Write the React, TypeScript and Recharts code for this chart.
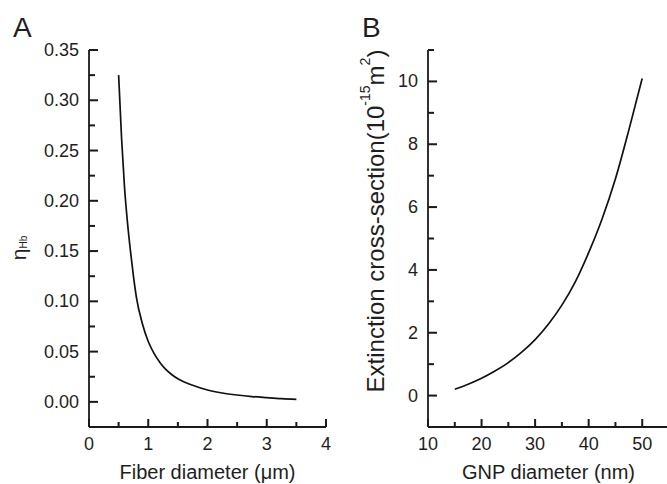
import React from "react";
import { LineChart, Line, XAxis, YAxis, Label } from "recharts";

// Panel A data
const fiberDiameter = [0.5, 0.55, 0.6, 0.65, 0.7, 0.75, 0.8, 0.9, 1.0, 1.1, 1.2, 1.3, 1.4, 1.5, 1.75, 2.0, 2.25, 2.5, 2.75, 3.0, 3.25, 3.5];
const etaHb = [0.325, 0.262, 0.213, 0.178, 0.15, 0.125, 0.104, 0.078, 0.06, 0.048, 0.039, 0.032, 0.027, 0.023, 0.0165, 0.0118, 0.0088, 0.0068, 0.0053, 0.0042, 0.0032, 0.0025];
const aXMajor = [0, 1, 2, 3, 4];
const aXMinor = [0.5, 1.5, 2.5, 3.5];
const aYMajor = [0, 0.05, 0.1, 0.15, 0.2, 0.25, 0.3, 0.35];
const aYMinor = [0.025, 0.075, 0.125, 0.175, 0.225, 0.275, 0.325];

// Panel B data
const gnpDiameter = [15, 17.5, 20, 22.5, 25, 27.5, 30, 32.5, 35, 37.5, 40, 42.5, 45, 47.5, 50];
const extinction = [0.2, 0.36, 0.55, 0.78, 1.05, 1.38, 1.78, 2.28, 2.88, 3.62, 4.55, 5.62, 6.9, 8.45, 10.1];
const bXMajor = [10, 20, 30, 40, 50];
const bXMinor = [15, 25, 35, 45, 55];
const bYMajor = [0, 2, 4, 6, 8, 10];
const bYMinor = [1, 3, 5, 7, 9, 11];

const dataA = fiberDiameter.map((x, i) => ({ x, y: etaHb[i] }));
const dataB = gnpDiameter.map((x, i) => ({ x, y: extinction[i] }));

const FONT = '"Liberation Sans", Arial, Helvetica, sans-serif';
const AXIS_COLOR = "#1a1a1a";
const TEXT_COLOR = "#1e1e1e";
const GAP = 10; // tickMargin used to locate the axis line from the tick position
const TW = 2; // tick mark thickness

const sortNum = (a: number[], b: number[]) => [...a, ...b].sort((p, q) => p - q);
const isIn = (arr: number[], v: number) => arr.some((m) => Math.abs(m - v) < 1e-9);

function makeYTick(major: number[], fmt: (v: number) => string) {
  return (props: any) => {
    const x = Number(props.x);
    const y = Number(props.y);
    const v = Number(props.payload.value);
    const isMajor = isIn(major, v);
    const len = isMajor ? 9 : 6;
    return (
      <g>
        <rect x={x + GAP} y={y - TW / 2} width={len} height={TW} fill={AXIS_COLOR} />
        {isMajor && (
          <text x={x} y={y} textAnchor="end" dominantBaseline="central" fontSize={18} fontFamily={FONT} fill={TEXT_COLOR}>
            {fmt(v)}
          </text>
        )}
      </g>
    );
  };
}

function makeXTick(major: number[]) {
  return (props: any) => {
    const x = Number(props.x);
    const y = Number(props.y);
    const v = Number(props.payload.value);
    const isMajor = isIn(major, v);
    const len = isMajor ? 8 : 5;
    const axisY = y - GAP;
    return (
      <g>
        <rect x={x - TW / 2} y={axisY - len} width={TW} height={len} fill={AXIS_COLOR} />
        {isMajor && (
          <text x={x} y={axisY + 23} textAnchor="middle" fontSize={18} fontFamily={FONT} fill={TEXT_COLOR}>
            {String(v)}
          </text>
        )}
      </g>
    );
  };
}

const xTitle = (text: string) => (props: any) => {
  const vb = props.viewBox || {};
  const cx = vb.x + vb.width / 2;
  return (
    <text x={cx} y={vb.y + 52} textAnchor="middle" fontSize={20} fontFamily={FONT} fill={TEXT_COLOR}>
      {text}
    </text>
  );
};

const yTitleA = (props: any) => {
  const cx = 18;
  const cy = 248;
  return (
    <g>
      <text x={13} y={37} fontSize={28} fontFamily={FONT} fill={TEXT_COLOR}>A</text>
      <text x={cx} y={cy} transform={`rotate(-90 ${cx} ${cy})`} textAnchor="middle" dominantBaseline="central" fontFamily={FONT} fill={TEXT_COLOR}>
        <tspan fontSize={21}>η</tspan>
        <tspan fontSize={10} dy={5}>Hb</tspan>
      </text>
    </g>
  );
};

const yTitleB = (props: any) => {
  const cx = 35;
  const cy = 221;
  return (
    <g>
      <text x={22} y={37} fontSize={28} fontFamily={FONT} fill={TEXT_COLOR}>B</text>
      <text x={cx} y={cy} transform={`rotate(-90 ${cx} ${cy})`} textAnchor="middle" dominantBaseline="central" fontSize={24} fontFamily={FONT} fill={TEXT_COLOR}>
        <tspan>Extinction cross-section(10</tspan>
        <tspan fontSize={14} dy={-10}>-15</tspan>
        <tspan dy={10}>m</tspan>
        <tspan fontSize={14} dy={-10}>2</tspan>
        <tspan dy={10}>)</tspan>
      </text>
    </g>
  );
};

const lineStyle = { stroke: AXIS_COLOR, strokeWidth: 1.8 };

export default function App() {
  return (
    <div style={{ position: "absolute", left: 0, top: 0, width: 667, height: 484, overflow: "hidden", background: "#fff" }}>
      <div style={{ position: "absolute", left: 0, top: 0 }}>
        <LineChart width={340} height={484} data={dataA} margin={{ top: 50, right: 14, bottom: 0, left: 0 }}>
          <XAxis
            type="number"
            dataKey="x"
            domain={[0, 4]}
            ticks={sortNum(aXMajor, aXMinor)}
            interval={0}
            tickSize={0}
            tickMargin={GAP}
            tickLine={false}
            height={57}
            axisLine={lineStyle}
            tick={makeXTick(aXMajor)}
            allowDataOverflow
          >
            <Label content={xTitle("Fiber diameter (μm)")} />
          </XAxis>
          <YAxis
            type="number"
            domain={[-0.025, 0.35]}
            ticks={sortNum(aYMajor, aYMinor)}
            interval={0}
            tickSize={0}
            tickMargin={GAP}
            tickLine={false}
            width={89}
            axisLine={lineStyle}
            tick={makeYTick(aYMajor, (v) => v.toFixed(2))}
            allowDataOverflow
          >
            <Label content={yTitleA} />
          </YAxis>
          <Line type="monotone" dataKey="y" stroke="#111" strokeWidth={1.7} dot={false} isAnimationActive={false} />
        </LineChart>
      </div>
      <div style={{ position: "absolute", left: 340, top: 0 }}>
        <LineChart width={330} height={484} data={dataB} margin={{ top: 50, right: 1, bottom: 0, left: 0 }}>
          <XAxis
            type="number"
            dataKey="x"
            domain={[10, 55]}
            ticks={sortNum(bXMajor, bXMinor)}
            interval={0}
            tickSize={0}
            tickMargin={GAP}
            tickLine={false}
            height={57}
            axisLine={lineStyle}
            tick={makeXTick(bXMajor)}
            allowDataOverflow
          >
            <Label content={xTitle("GNP diameter (nm)")} />
          </XAxis>
          <YAxis
            type="number"
            domain={[-1, 11]}
            ticks={sortNum(bYMajor, bYMinor)}
            interval={0}
            tickSize={0}
            tickMargin={GAP}
            tickLine={false}
            width={88}
            axisLine={lineStyle}
            tick={makeYTick(bYMajor, (v) => String(v))}
            allowDataOverflow
          >
            <Label content={yTitleB} />
          </YAxis>
          <Line type="monotone" dataKey="y" stroke="#111" strokeWidth={1.7} dot={false} isAnimationActive={false} />
        </LineChart>
      </div>
    </div>
  );
}
